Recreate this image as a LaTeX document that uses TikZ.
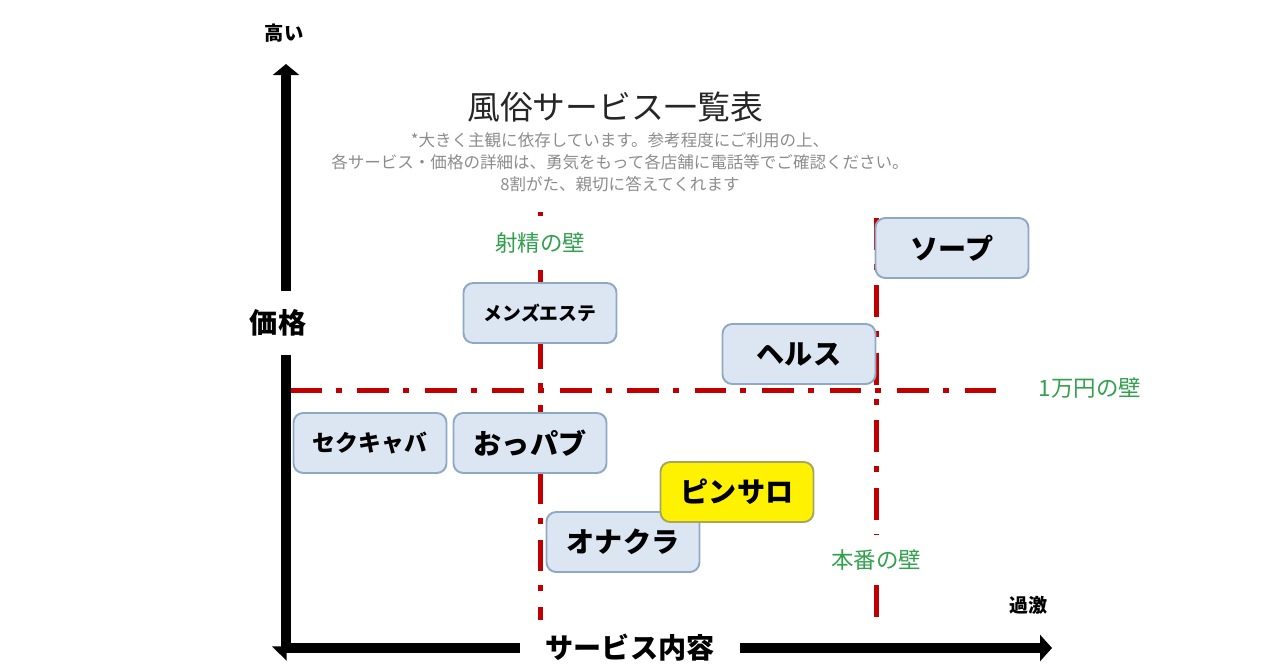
\documentclass[tikz,border=0pt]{standalone}
\usepackage{fontspec}
\setmainfont{Noto Sans CJK JP}
\usepackage{xcolor}
\usetikzlibrary{arrows.meta}

\definecolor{wallred}{HTML}{C00000}
\definecolor{wallgreen}{HTML}{33A04F}
\definecolor{shopfill}{HTML}{DCE6F2}
\definecolor{shopline}{HTML}{8EA8C6}
\definecolor{pinline}{HTML}{A8A660}

\begin{document}
\begin{tikzpicture}[x=0.02cm, y=-0.02cm,
        axis/.style = {line width=0.2cm},
        wall/.style = {wallred, line width=0.1cm,
            dash pattern=on 18pt off 8pt on 3.4pt off 9pt},
        walllabel/.style = {text=wallgreen,
            font=\fontsize{12.8pt}{14pt}\selectfont},
        axislabel/.style = {font=\fontsize{16pt}{18pt}\selectfont\bfseries},
        shop/.style = {draw=shopline, fill=shopfill,
            line width=1.1pt, rounded corners=5.5pt,
            minimum width=3.06cm, minimum height=1.2cm,
            font=\fontsize{16pt}{18pt}\selectfont\bfseries}]

        \useasboundingbox (0,0) rectangle (1280,670);

        % Title and note
        \node[text=black!85, font=\fontsize{18.7pt}{20pt}\selectfont] (title) at (615,107) {風俗サービス一覧表};
        \node[text=black!45, align=center, font=\fontsize{9.4pt}{12.5pt}\selectfont] (note) at (620,162)
            {*大きく主観に依存しています。参考程度にご利用の上、\\
             各サービス・価格の詳細は、勇気をもって各店舗に電話等でご確認ください。\\
             8割がた、親切に答えてくれます};

        % Walls
        \coordinate (shaseitop) at (540,212);
        \coordinate (shaseibot) at (540,620);
        \node[walllabel, minimum height=1.06cm] (shasei) at (540,243) {射精の壁};
        \draw[wall] (shaseitop) -- (shasei.north);
        \draw[wall] (shasei.south) -- (shaseibot);

        \coordinate (honbantop) at (876,218);
        \coordinate (honbanbot) at (876,628);
        \node[walllabel, minimum height=1.0cm] (honban) at (876,560) {本番の壁};
        \draw[wall] (honbantop) -- (honban.north);
        \draw[wall] (honban.south) -- (honbanbot);

        \coordinate (manleft) at (290,390);
        \coordinate (manright) at (1000,390);
        \draw[wall] (manleft) -- (manright);
        \node[walllabel] (man) at (1090,388) {1万円の壁};

        % Axes
        \coordinate (origin) at (286,652);
        \coordinate (top) at (286,64);
        \coordinate (left) at (272,648);
        \coordinate (right) at (1052,648);
        \node[axislabel, inner xsep=0.5cm] (service) at (630,648) {サービス内容};
        \draw[axis, -{Triangle[harpoon, width=0.5cm, length=0.26cm]}] (service.west) -- (left);
        \draw[axis, -{Triangle[width=0.52cm, length=0.24cm]}] (service.east) -- (right);

        \node[axislabel, minimum height=1.26cm] (price) at (278,323) {価格};
        \draw[axis] (origin) -- (origin |- price.south);
        \draw[axis, -{Triangle[width=0.52cm, length=0.22cm]}] (origin |- price.north) -- (top);

        \node[font=\fontsize{11pt}{12pt}\selectfont\bfseries] (high) at (284,33) {高い};
        \node[font=\fontsize{10.8pt}{12pt}\selectfont\bfseries] (extreme) at (1028,605) {過激};

        % Shops
        \node[shop, font=\fontsize{10.7pt}{12pt}\selectfont\bfseries] (mens) at (540,313) {メンズエステ};
        \node[shop, font=\fontsize{13pt}{14pt}\selectfont\bfseries] (sekukyaba) at (370,443) {セクキャバ};
        \node[shop] (oppabu) at (530,443) {おっパブ};
        \node[shop] (herusu) at (799,354) {ヘルス};
        \node[shop] (soap) at (952,248) {ソープ};
        \node[shop] (onakura) at (623,542) {オナクラ};
        \node[shop, fill=yellow, draw=pinline] (pinsaro) at (737,492) {ピンサロ};

    \end{tikzpicture}
\end{document}
